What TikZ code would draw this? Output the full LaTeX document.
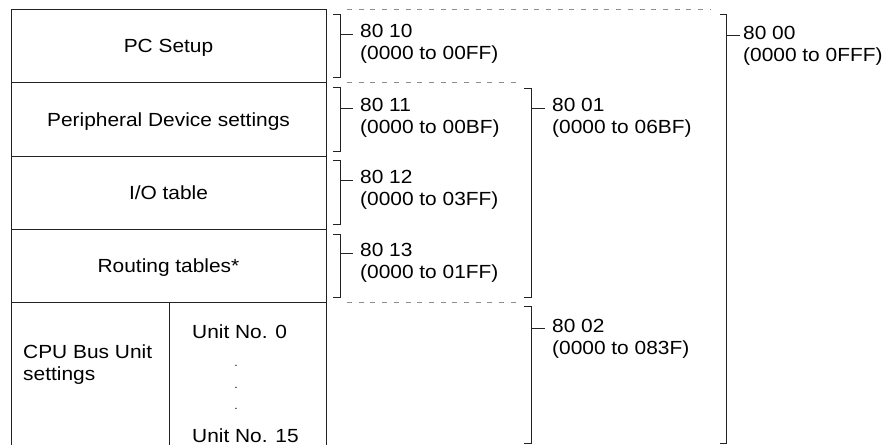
\documentclass[tikz,border=0pt]{standalone}
\usepackage{fontspec}
\setmainfont{Liberation Sans}[FakeStretch=1.1]
\begin{document}
\begin{tikzpicture}[x=1pt,y=-1pt,font=\fontsize{19}{22}\selectfont]
\definecolor{rule}{RGB}{35,35,35}
\definecolor{dashgray}{RGB}{140,140,140}
\tikzset{
  frame/.style={draw=rule,line width=1pt},
  bracket/.style={draw=rule,line width=0.9pt},
  split/.style={draw=dashgray,line width=0.9pt,dash pattern=on 5pt off 6.7pt},
  addr/.style={anchor=base west,align=left,inner sep=0pt},
  cell/.style={anchor=base,inner sep=0pt},
  gap/.style={anchor=base,inner sep=0pt,font=\fontsize{11}{13}\selectfont}
}
\useasboundingbox (0,0) rectangle (887,445);
% memory area table
\draw[frame] (11,445)--(11,9.5)--(326,9.5)--(326,445);
\draw[frame] (11,82.5)--(326,82.5);
\draw[frame] (11,156)--(326,156);
\draw[frame] (11,229.5)--(326,229.5);
\draw[frame] (11,302.5)--(326,302.5);
\draw[frame] (169,302.5)--(169,445);
\node[cell] (pcsetup) at (168.5,52.5) {PC Setup};
\node[cell] (periph) at (168.5,126) {Peripheral Device settings};
\node[cell] (iotable) at (168.5,199.5) {I/O table};
\node[cell] (routing) at (168.5,272.5) {Routing tables*};
\node[addr] (cpubus) at (23,380) {CPU Bus Unit\\settings};
\node[addr] (unit0) at (192,338) {Unit No. 0};
\node[gap] (dot1) at (236,366) {.};
\node[gap] (dot2) at (236,388) {.};
\node[gap] (dot3) at (236,409) {.};
\node[addr] (unit15) at (192,442) {Unit No. 15};
% dashed boundaries
\draw[split] (347,9)--(711,9);
\draw[split] (347,82.5)--(520,82.5);
\draw[split] (347,302.5)--(520,302.5);
% 80 1x brackets
\draw[bracket] (333,14)--(340,14)--(340,77)--(333,77);
\draw[bracket] (340,34)--(353,34);
\node[addr] (a8010) at (360,59) {80 10\\(0000 to 00FF)};
\draw[bracket] (333,87)--(340,87)--(340,151)--(333,151);
\draw[bracket] (340,108)--(353,108);
\node[addr] (a8011) at (360,133) {80 11\\(0000 to 00BF)};
\draw[bracket] (333,160)--(340,160)--(340,224)--(333,224);
\draw[bracket] (340,180)--(353,180);
\node[addr] (a8012) at (360,205) {80 12\\(0000 to 03FF)};
\draw[bracket] (333,234)--(340,234)--(340,297)--(333,297);
\draw[bracket] (340,253)--(353,253);
\node[addr] (a8013) at (360,278) {80 13\\(0000 to 01FF)};
% 80 0x brackets
\draw[bracket] (524,88)--(531,88)--(531,297)--(524,297);
\draw[bracket] (531,108)--(545,108);
\node[addr] (a8001) at (552,133) {80 01\\(0000 to 06BF)};
\draw[bracket] (524,306)--(531,306)--(531,443)--(524,443);
\draw[bracket] (531,328)--(545,328);
\node[addr] (a8002) at (552,354) {80 02\\(0000 to 083F)};
\draw[bracket] (720,14)--(726,14)--(726,443)--(720,443);
\draw[bracket] (726,35)--(740,35);
\node[addr] (a8000) at (743,61) {80 00\\(0000 to 0FFF)};
\end{tikzpicture}
\end{document}
